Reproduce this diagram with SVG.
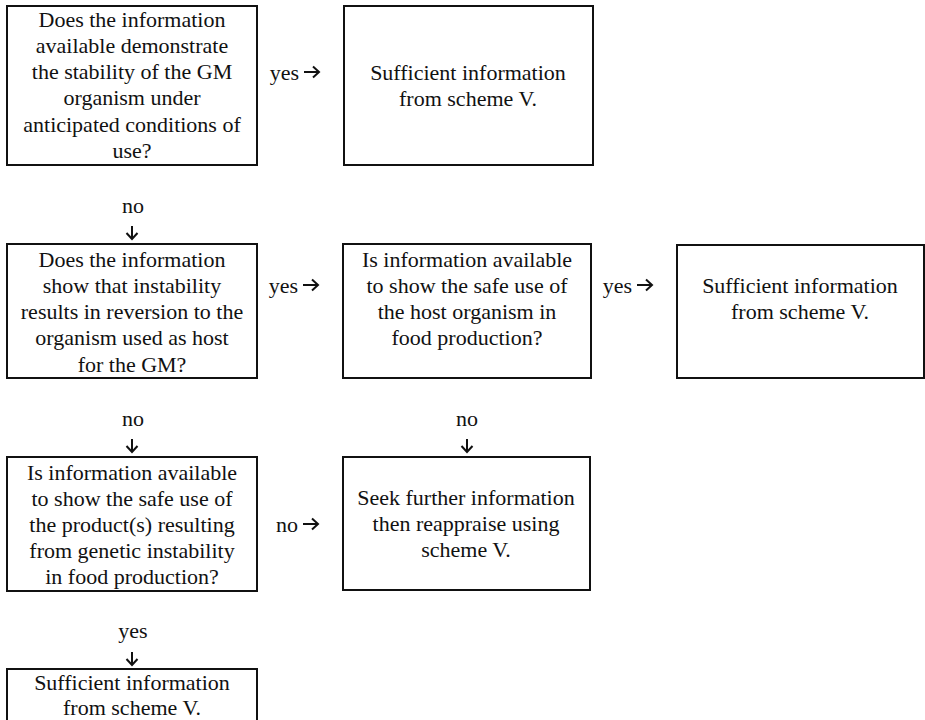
<svg xmlns="http://www.w3.org/2000/svg" width="925" height="720" viewBox="0 0 925 720">
  <style>
    .box { fill: #ffffff; stroke: #111111; stroke-width: 2; }
    .arrow { fill: none; stroke: #111111; stroke-width: 2; stroke-linecap: butt; stroke-linejoin: miter; }
    text { font-family: "Liberation Serif", "Times New Roman", serif; font-size: 22px; fill: #111111; text-anchor: middle; }
    text.lbl { text-anchor: end; }
  </style>
  <defs>
    <path id="arrow-right" class="arrow" d="M0,0 H15 M9,-5.5 L15,0 L9,5.5"/>
    <path id="arrow-down" class="arrow" d="M0,0 V13 M-5.5,7 L0,13 L5.5,7"/>
  </defs>
  <rect x="0" y="0" width="925" height="720" fill="#ffffff"/>

  <!-- Row 1 -->
  <g id="q-stability">
    <rect class="box" x="7" y="6" width="250" height="159"/>
    <text x="132" y="27">Does the information</text>
    <text x="132" y="53">available demonstrate</text>
    <text x="132" y="79">the stability of the GM</text>
    <text x="132" y="105">organism under</text>
    <text x="132" y="132">anticipated conditions of</text>
    <text x="132" y="158">use?</text>
  </g>
  <g id="result-1">
    <rect class="box" x="344" y="6" width="249" height="159"/>
    <text x="468" y="80">Sufficient information</text>
    <text x="468" y="106">from scheme V.</text>
  </g>

  <!-- Row 2 -->
  <g id="q-reversion">
    <rect class="box" x="7" y="244" width="250" height="134"/>
    <text x="132" y="267">Does the information</text>
    <text x="132" y="293">show that instability</text>
    <text x="132" y="319">results in reversion to the</text>
    <text x="132" y="345">organism used as host</text>
    <text x="132" y="372">for the GM?</text>
  </g>
  <g id="q-host-safe">
    <rect class="box" x="343" y="244" width="248" height="134"/>
    <text x="467" y="267">Is information available</text>
    <text x="467" y="293">to show the safe use of</text>
    <text x="467" y="319">the host organism in</text>
    <text x="467" y="345">food production?</text>
  </g>
  <g id="result-2">
    <rect class="box" x="677" y="245" width="247" height="133"/>
    <text x="800" y="293">Sufficient information</text>
    <text x="800" y="319">from scheme V.</text>
  </g>

  <!-- Row 3 -->
  <g id="q-products-safe">
    <rect class="box" x="7" y="457" width="250" height="134"/>
    <text x="132" y="480">Is information available</text>
    <text x="132" y="506">to show the safe use of</text>
    <text x="132" y="532">the product(s) resulting</text>
    <text x="132" y="558">from genetic instability</text>
    <text x="132" y="584">in food production?</text>
  </g>
  <g id="seek-further">
    <rect class="box" x="343" y="457" width="247" height="133"/>
    <text x="466" y="505">Seek further information</text>
    <text x="466" y="531">then reappraise using</text>
    <text x="466" y="557">scheme V.</text>
  </g>

  <!-- Row 4 -->
  <g id="result-3">
    <rect class="box" x="7" y="669" width="250" height="80"/>
    <text x="132" y="690">Sufficient information</text>
    <text x="132" y="715">from scheme V.</text>
  </g>

  <!-- Connectors: answer labels with their arrows -->
  <g id="connectors">
    <text class="lbl" x="299" y="80">yes</text>
    <use href="#arrow-right" x="304" y="72"/>

    <text x="133" y="213">no</text>
    <use href="#arrow-down" x="132" y="226"/>

    <text class="lbl" x="298" y="293">yes</text>
    <use href="#arrow-right" x="303" y="285"/>

    <text class="lbl" x="632" y="293">yes</text>
    <use href="#arrow-right" x="637" y="285"/>

    <text x="133" y="426">no</text>
    <use href="#arrow-down" x="132" y="439"/>

    <text x="467" y="426">no</text>
    <use href="#arrow-down" x="467" y="439"/>

    <text class="lbl" x="298" y="532">no</text>
    <use href="#arrow-right" x="303" y="524"/>

    <text x="133" y="638">yes</text>
    <use href="#arrow-down" x="132" y="652"/>
  </g>
</svg>
